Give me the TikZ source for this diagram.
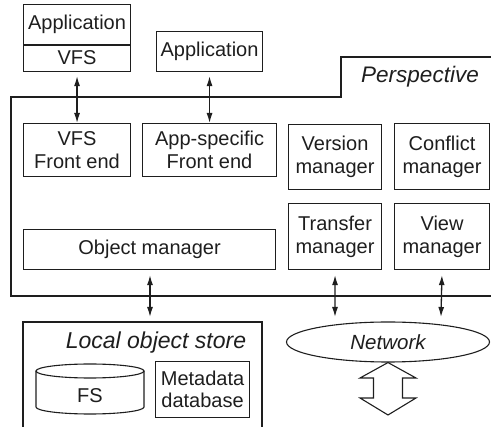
\documentclass[tikz,border=0pt]{standalone}
\usepackage{fontspec}
\setmainfont{Liberation Sans}
\usetikzlibrary{arrows.meta,shapes.geometric}
\definecolor{ink}{RGB}{30,30,30}
\begin{document}
\begin{tikzpicture}[x=1pt,y=-1pt,
  txt/.style={font=\fontsize{20}{23}\selectfont, text=ink, align=center},
  box/.style={txt, draw=ink, line width=1.1pt, inner sep=0pt, anchor=north west},
  frame/.style={draw=ink, line width=1.1pt},
  link/.style={draw=ink, line width=1.3pt, {Latex[length=10pt,width=6pt]}-{Latex[length=10pt,width=6pt]}}
]
\useasboundingbox (0,0) rectangle (491,427);
% perspective frame
\draw[frame] (491,57) -- (341,57) -- (341,97) -- (11,97) -- (11,296) -- (491,296);
\node[txt, font=\fontsize{22.5}{26}\selectfont\itshape] (persp) at (420,77) {Perspective};
% applications
\node[box, minimum width=107pt, minimum height=40pt] (appl) at (23,4) {Application};
\node[box, minimum width=107pt, minimum height=27pt] (vfs) at (23,44) {VFS};
\draw[ink, line width=2pt] (appl.south west) -- (appl.south east);
\node[box, minimum width=106pt, minimum height=40pt] (app2) at (156,31) {Application};
% front ends and managers
\node[box, minimum width=107pt, minimum height=53pt] (vfsfe) at (23,123) {VFS\\Front end};
\node[box, minimum width=134pt, minimum height=53pt] (appfe) at (142,123) {App-specific\\Front end};
\node[box, minimum width=93pt, minimum height=65pt] (verm) at (288,124) {Version\\manager};
\node[box, minimum width=95pt, minimum height=66pt] (conm) at (394,123) {Conflict\\manager};
\node[box, minimum width=252pt, minimum height=40pt] (objm) at (23,229) {Object manager};
\node[box, minimum width=93pt, minimum height=66pt] (trm) at (288,203) {Transfer\\manager};
\node[box, minimum width=95pt, minimum height=66pt] (viewm) at (394,203) {View\\manager};
% local object store
\draw[frame] (23,428) -- (23,322) -- (262,322) -- (262,428);
\coordinate (lstop) at (150,322);
\node[txt, font=\fontsize{23}{26}\selectfont\itshape] (lstext) at (156,343) {Local object store};
% cylinder FS
\draw[frame] (90,371) ellipse [x radius=54pt, y radius=7pt];
\draw[frame] (36,371) -- (36,407) arc[start angle=180, end angle=360, x radius=54pt, y radius=7pt] -- (144,371);
\node[txt] (fs) at (90,396) {FS};
\node[box, minimum width=94pt, minimum height=56pt, font=\fontsize{20}{22}\selectfont] (meta) at (155,361) {Metadata\\database};
% network
\node[txt, draw=ink, line width=1.1pt, ellipse, minimum width=203pt, minimum height=40pt, inner sep=0pt, font=\fontsize{20.5}{23}\selectfont\itshape] (net) at (388,342) {Network};
\coordinate (tmend) at (335,317);
\coordinate (vmend) at (441,317);
% double arrow
\draw[frame, line width=1.1pt] (net.south) -- (360,378) -- (373.5,378) -- (373.5,398) -- (360,398) -- (388,415) -- (416,398) -- (402.5,398) -- (402.5,378) -- (416,378) -- cycle;
% links
\draw[link, shorten <=4pt] (vfs.south) -- (vfsfe.north);
\draw[link, shorten <=4pt] (app2.south) -- (appfe.north);
\draw[link, shorten <=5pt, shorten >=5pt] (objm.south -| lstop) -- (lstop);
\draw[link, shorten <=5pt] (trm.south) -- (tmend);
\draw[link, shorten <=5pt] (viewm.south) -- (vmend);
\end{tikzpicture}
\end{document}
